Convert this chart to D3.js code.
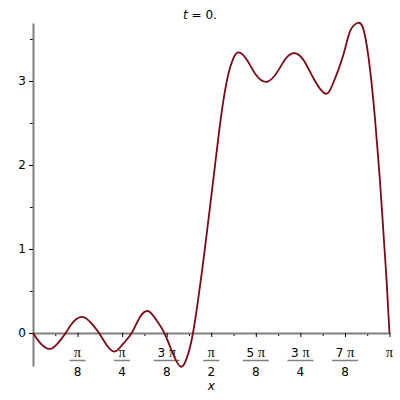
<!DOCTYPE html>
<html>
<head>
<meta charset="utf-8">
<script src="https://cdn.jsdelivr.net/npm/d3@7"></script>
<style>
  body { margin: 0; background: #fff; }
  text { font-family: "DejaVu Sans", "Liberation Sans", sans-serif; font-size: 12px; fill: #000; }
  .pi { font-family: "Liberation Serif", "DejaVu Serif", serif; font-size: 14px; }
</style>
</head>
<body>
<div id="graph"></div>
<script>
// curve samples (x in radians, y value)
var xs = [0, 0.0705, 0.1498, 0.2203, 0.2882, 0.3613, 0.4433, 0.5111, 0.5816, 0.6521,
  0.7226, 0.7931, 0.8698, 0.9429, 1.0161, 1.0839, 1.1571, 1.2249, 1.3016, 1.3571,
  1.4100, 1.4866, 1.5598, 1.6329, 1.6770, 1.7210, 1.7625, 1.8109, 1.8858, 1.9563,
  2.0594, 2.1590, 2.2295, 2.3088, 2.3881, 2.4763, 2.5732, 2.6437, 2.7345, 2.7935,
  2.8596, 2.9107, 2.9548, 2.9848, 3.0138, 3.0579, 3.0870, 3.1170, Math.PI];
var ys = [0, -0.13, -0.19, -0.12, 0, 0.14, 0.19, 0.12, 0, -0.15,
  -0.22, -0.13, 0, 0.19, 0.26, 0.16, 0, -0.22, -0.40, -0.29,
  0, 0.71, 1.50, 2.32, 2.76, 3.08, 3.26, 3.34, 3.25, 3.09,
  2.99, 3.12, 3.27, 3.33, 3.24, 3.02, 2.85, 2.97, 3.31, 3.59,
  3.69, 3.62, 3.30, 2.96, 2.55, 1.80, 1.22, 0.60, 0];

// x tick labels as fractions of pi
var xTickK = [1, 2, 3, 4, 5, 6, 7, 8];
var xTickNum = ["π", "π", "3 π", "π", "5 π", "3 π", "7 π", "π"];
var xTickDen = ["8", "4", "8", "2", "8", "4", "8", ""];
var yTicks = [0, 1, 2, 3];
var yMinor = [0.5, 1.5, 2.5, 3.5];

var W = 400, H = 400;
var x = d3.scaleLinear().domain([0, Math.PI]).range([33, 389.5]);
var y = d3.scaleLinear().domain([-0.393, 3.69]).range([366, 23]);

var svg = d3.select("#graph").append("svg")
  .attr("width", W).attr("height", H);

// title
var title = svg.append("text")
  .attr("x", 200).attr("y", 19)
  .attr("text-anchor", "middle");
title.append("tspan").style("font-style", "italic").text("t");
title.append("tspan").text(" = 0.");

// x axis, minor ticks first
var xMinorVals = d3.range(1, 16, 2).map(function (k) { return k * Math.PI / 16; });
svg.append("g")
  .attr("transform", "translate(0," + y(0) + ")")
  .call(d3.axisBottom(x).tickValues(xMinorVals).tickSize(3).tickSizeOuter(0).tickFormat(""))
  .call(function (g) { g.select(".domain").remove(); });

var xAxis = svg.append("g")
  .attr("class", "x axis")
  .attr("transform", "translate(0," + y(0) + ")")
  .call(d3.axisBottom(x)
    .tickValues(xTickK.map(function (k) { return k * Math.PI / 8; }))
    .tickSize(4).tickSizeOuter(0).tickFormat(""));
xAxis.select(".domain").attr("stroke", "#808080").attr("stroke-width", 2);

// fraction labels
var lab = svg.append("g").selectAll("g")
  .data(xTickK)
  .enter().append("g")
  .attr("transform", function (k) { return "translate(" + x(k * Math.PI / 8) + ",0)"; });

var num = lab.append("text")
  .attr("y", 357)
  .attr("text-anchor", "middle");
num.each(function (d, i) {
  var parts = xTickNum[i].split(" ");
  var t = d3.select(this);
  if (parts.length > 1) t.append("tspan").text(parts[0] + " ");
  t.append("tspan").attr("class", "pi").text("π");
});

lab.filter(function (d, i) { return xTickDen[i] !== ""; })
  .append("line")
  .attr("x1", function (d, i) { return xTickNum[i].length > 1 ? -13 : -8; })
  .attr("x2", function (d, i) { return xTickNum[i].length > 1 ? 13 : 8; })
  .attr("y1", 360.5).attr("y2", 360.5)
  .attr("stroke", "#808080").attr("stroke-width", 1.5);

lab.append("text")
  .attr("y", 376)
  .attr("text-anchor", "middle")
  .text(function (d, i) { return xTickDen[i]; });

svg.append("text")
  .attr("x", x(Math.PI / 2)).attr("y", 390)
  .attr("text-anchor", "middle")
  .style("font-style", "italic")
  .text("x");

// y axis
svg.append("g")
  .attr("transform", "translate(" + x(0) + ",0)")
  .call(d3.axisLeft(y).tickValues(yMinor).tickSize(3).tickSizeOuter(0).tickFormat(""))
  .call(function (g) { g.select(".domain").remove(); });

var yAxis = svg.append("g")
  .attr("class", "y axis")
  .attr("transform", "translate(" + x(0) + ",0)")
  .call(d3.axisLeft(y).tickValues(yTicks).tickSize(4).tickSizeOuter(0).tickFormat(d3.format("d")));
yAxis.select(".domain").attr("stroke", "#808080").attr("stroke-width", 2);
yAxis.selectAll("text")
  .attr("x", -7)
  .style("font-family", "DejaVu Sans, Liberation Sans, sans-serif")
  .style("font-size", "12px");

// the curve
var pts = xs.map(function (d, i) { return [d, ys[i]]; });
var line = d3.line()
  .x(function (d) { return x(d[0]); })
  .y(function (d) { return y(d[1]); })
  .curve(d3.curveNatural);

svg.append("path")
  .datum(pts)
  .attr("fill", "none")
  .attr("stroke", "#7c0a16")
  .attr("stroke-width", 1.8)
  .attr("d", line);
</script>
</body>
</html>
